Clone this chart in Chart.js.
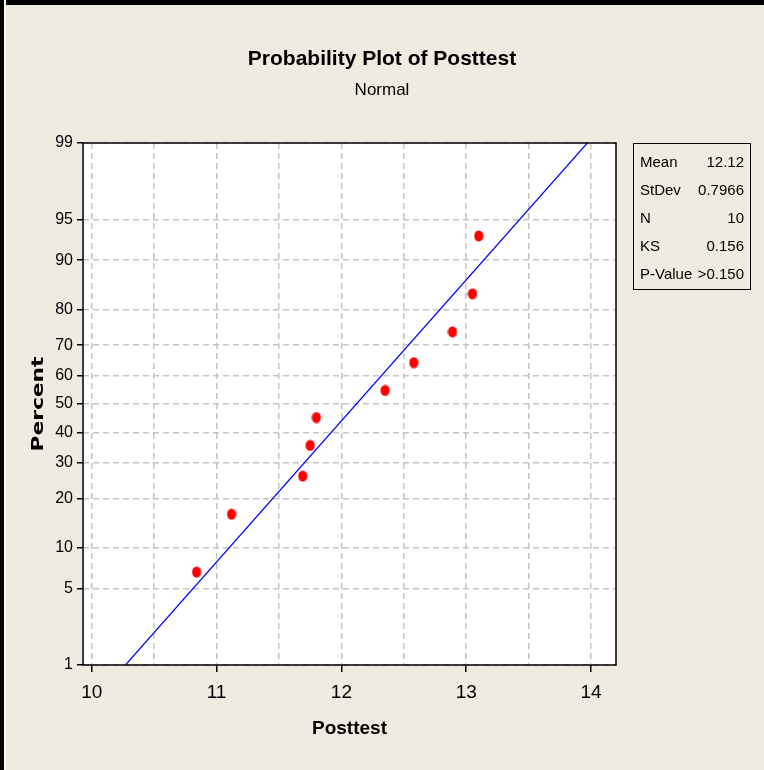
<!DOCTYPE html>
<html>
<head>
<meta charset="utf-8">
<script src="https://cdn.jsdelivr.net/npm/chart.js@4.4.0/dist/chart.umd.min.js"></script>
<style>
body { margin: 0; background: #EFEBE1; }
#wrap { position: relative; width: 764px; height: 770px; overflow: hidden; background: #EFEBE1; }
#myChart { position: absolute; left: 0; top: 0; }
#edgeTop { position: absolute; left: 0; top: 0; width: 764px; height: 5px; background: #000; }
#edgeLeft { position: absolute; left: 0; top: 0; width: 4px; height: 770px; background: #000; border-right: 2px solid #fff; }
#stats {
	position: absolute; left: 633px; top: 143px; width: 118px; height: 147px;
	border: 1.5px solid #000; padding-top: 4px; box-sizing: border-box;
	font-family: "Liberation Sans", Arial, sans-serif; font-size: 15px; color: #000;
}
#stats div { display: flex; justify-content: space-between; white-space: nowrap; line-height: 28px; padding: 0 6px 0 6px; }
</style>
</head>
<body>
<div id="wrap">
	<canvas id="myChart" width="764" height="770"></canvas>
	<div id="edgeTop"></div>
	<div id="edgeLeft"></div>
	<div id="stats"></div>
</div>
<script>
// data
var posttest = [10.84, 11.12, 11.69, 11.75, 11.80, 12.35, 12.58, 12.89, 13.05, 13.10];
var percent = [6.7, 16.3, 26.0, 35.6, 45.2, 54.8, 64.4, 74.0, 83.7, 93.3];

// fitted normal line (ends of the blue line)
var fitX = [10.27, 13.97];
var fitPct = [1, 99];

var yTicks = [1, 5, 10, 20, 30, 40, 50, 60, 70, 80, 90, 95, 99];
var xTicks = [10, 10.5, 11, 11.5, 12, 12.5, 13, 13.5, 14];

var statLabels = ['Mean', 'StDev', 'N', 'KS', 'P-Value'];
var statValues = ['12.12', '0.7966', '10', '0.156', '>0.150'];

var sans = '"Liberation Sans", Arial, sans-serif';

// inverse normal cdf (Acklam)
function probit(p) {
	var a = [-3.969683028665376e+01, 2.209460984245205e+02, -2.759285104469687e+02, 1.383577518672690e+02, -3.066479806614716e+01, 2.506628277459239e+00];
	var b = [-5.447609879822406e+01, 1.615858368580409e+02, -1.556989798598866e+02, 6.680131188771972e+01, -1.328068155288572e+01];
	var c = [-7.784894002430293e-03, -3.223964580411365e-01, -2.400758277161838e+00, -2.549732539343734e+00, 4.374664141464968e+00, 2.938163982698783e+00];
	var d = [7.784695709041462e-03, 3.224671290700398e-01, 2.445134137142996e+00, 3.754408661907416e+00];
	var pl = 0.02425, q, r;
	if (p < pl) {
		q = Math.sqrt(-2 * Math.log(p));
		return (((((c[0]*q+c[1])*q+c[2])*q+c[3])*q+c[4])*q+c[5]) / ((((d[0]*q+d[1])*q+d[2])*q+d[3])*q+1);
	}
	if (p <= 1 - pl) {
		q = p - 0.5; r = q * q;
		return (((((a[0]*r+a[1])*r+a[2])*r+a[3])*r+a[4])*r+a[5])*q / (((((b[0]*r+b[1])*r+b[2])*r+b[3])*r+b[4])*r+1);
	}
	q = Math.sqrt(-2 * Math.log(1 - p));
	return -(((((c[0]*q+c[1])*q+c[2])*q+c[3])*q+c[4])*q+c[5]) / ((((d[0]*q+d[1])*q+d[2])*q+d[3])*q+1);
}

function normcdf(z) {
	var t = 1 / (1 + 0.3275911 * Math.abs(z) / Math.SQRT2);
	var y = 1 - (((((1.061405429*t - 1.453152027)*t) + 1.421413741)*t - 0.284496736)*t + 0.254829592)*t * Math.exp(-z*z/2);
	return z >= 0 ? (1 + y) / 2 : (1 - y) / 2;
}

// normal probability axis
class ProbabilityScale extends Chart.Scale {
	determineDataLimits() {
		this.min = this.options.min;
		this.max = this.options.max;
	}
	buildTicks() {
		return yTicks.map(function(v) { return {value: v}; });
	}
	configure() {
		super.configure();
		this._zMin = probit(this.min / 100);
		this._zMax = probit(this.max / 100);
	}
	getPixelForValue(v) {
		var z = probit(v / 100);
		return this.getPixelForDecimal((z - this._zMin) / (this._zMax - this._zMin));
	}
	getValueForPixel(px) {
		var z = this._zMin + this.getDecimalForPixel(px) * (this._zMax - this._zMin);
		return 100 * normcdf(z);
	}
}
ProbabilityScale.id = 'probability';
ProbabilityScale.defaults = {};
Chart.register(ProbabilityScale);

// red dot, a bit taller than wide like the original
var dot = document.createElement('canvas');
dot.width = 10; dot.height = 12;
var dctx = dot.getContext('2d');
dctx.fillStyle = '#FF0000';
dctx.beginPath();
dctx.ellipse(5, 6, 4.6, 5.6, 0, 0, Math.PI * 2);
dctx.fill();

var framePlugin = {
	id: 'frame',
	beforeDraw: function(chart) {
		var ctx = chart.ctx, a = chart.chartArea;
		ctx.save();
		ctx.fillStyle = '#EFEBE1';
		ctx.fillRect(0, 0, chart.width, chart.height);
		ctx.fillStyle = '#FFFFFF';
		ctx.fillRect(a.left, a.top, a.right - a.left, a.bottom - a.top);
		ctx.restore();
	},
	afterDraw: function(chart) {
		var ctx = chart.ctx, a = chart.chartArea;
		ctx.save();
		ctx.strokeStyle = '#000';
		ctx.lineWidth = 1.5;
		ctx.strokeRect(a.left, a.top, a.right - a.left, a.bottom - a.top);
		// y axis title, stretched like the source picture
		ctx.translate(39, (a.top + a.bottom) / 2);
		ctx.rotate(-Math.PI / 2);
		ctx.scale(1.36, 1);
		ctx.fillStyle = '#000';
		ctx.font = 'bold 16px "DejaVu Sans", sans-serif';
		ctx.textAlign = 'center';
		ctx.textBaseline = 'middle';
		ctx.fillText('Percent', 0, 0);
		ctx.restore();
	}
};

var config = {
	type: 'scatter',
	data: {
		datasets: [{
			label: 'Posttest',
			data: posttest.map(function(x, i) { return {x: x, y: percent[i]}; }),
			pointStyle: dot,
			pointRadius: 5,
			pointHoverRadius: 5
		}, {
			label: 'Fit',
			data: fitX.map(function(x, i) { return {x: x, y: fitPct[i]}; }),
			showLine: true,
			borderColor: '#0000FF',
			borderWidth: 1.2,
			pointRadius: 0,
			fill: false
		}]
	},
	options: {
		responsive: false,
		animation: false,
		layout: { padding: { left: 0, right: 0, top: 0, bottom: 30 } },
		plugins: {
			legend: { display: false },
			tooltip: { enabled: false },
			title: {
				display: true,
				text: 'Probability Plot of Posttest',
				color: '#000',
				font: { family: sans, size: 21, weight: 'bold' },
				padding: { top: 47, bottom: 8 }
			},
			subtitle: {
				display: true,
				text: 'Normal',
				color: '#000',
				font: { family: sans, size: 17 },
				padding: { top: 0, bottom: 42.4 }
			}
		},
		scales: {
			x: {
				type: 'linear',
				position: 'bottom',
				min: 9.93,
				max: 14.2,
				afterBuildTicks: function(s) { s.ticks = xTicks.map(function(v) { return {value: v}; }); },
				afterFit: function(s) { s.height = 75; },
				ticks: {
					autoSkip: false,
					maxRotation: 0,
					color: '#000',
					padding: 9,
					font: { family: sans, size: 19 },
					callback: function(v) { return Number.isInteger(v) ? v : ''; }
				},
				grid: {
					color: '#C4C4C4',
					lineWidth: 1.5,
					tickLength: 7,
					tickWidth: 1.5,
					tickColor: function(c) { return Number.isInteger(c.tick && c.tick.value) ? '#000' : 'rgba(0,0,0,0)'; }
				},
				border: { display: false, dash: [6, 4] },
				title: {
					display: true,
					text: 'Posttest',
					color: '#000',
					font: { family: sans, size: 19, weight: 'bold' },
					padding: 0
				}
			},
			y: {
				type: 'probability',
				position: 'left',
				min: 1,
				max: 99,
				afterFit: function(s) { s.width = 83; },
				ticks: {
					color: '#000',
					padding: 4,
					font: { family: sans, size: 16 }
				},
				grid: {
					color: '#C4C4C4',
					lineWidth: 1.5,
					tickLength: 6,
					tickWidth: 1.5,
					tickColor: '#000'
				},
				border: { display: false, dash: [6, 4] }
			},
			// empty right axis: keeps room for the stats box
			side: {
				type: 'linear',
				position: 'right',
				afterFit: function(s) { s.width = 148; },
				ticks: { display: false },
				grid: { display: false },
				border: { display: false }
			}
		}
	},
	plugins: [framePlugin]
};

var myChart = new Chart(document.getElementById('myChart'), config);

var stats = document.getElementById('stats');
statLabels.forEach(function(l, i) {
	var row = document.createElement('div');
	row.innerHTML = '<span>' + l + '</span><span>' + statValues[i] + '</span>';
	stats.appendChild(row);
});
</script>
</body>
</html>
